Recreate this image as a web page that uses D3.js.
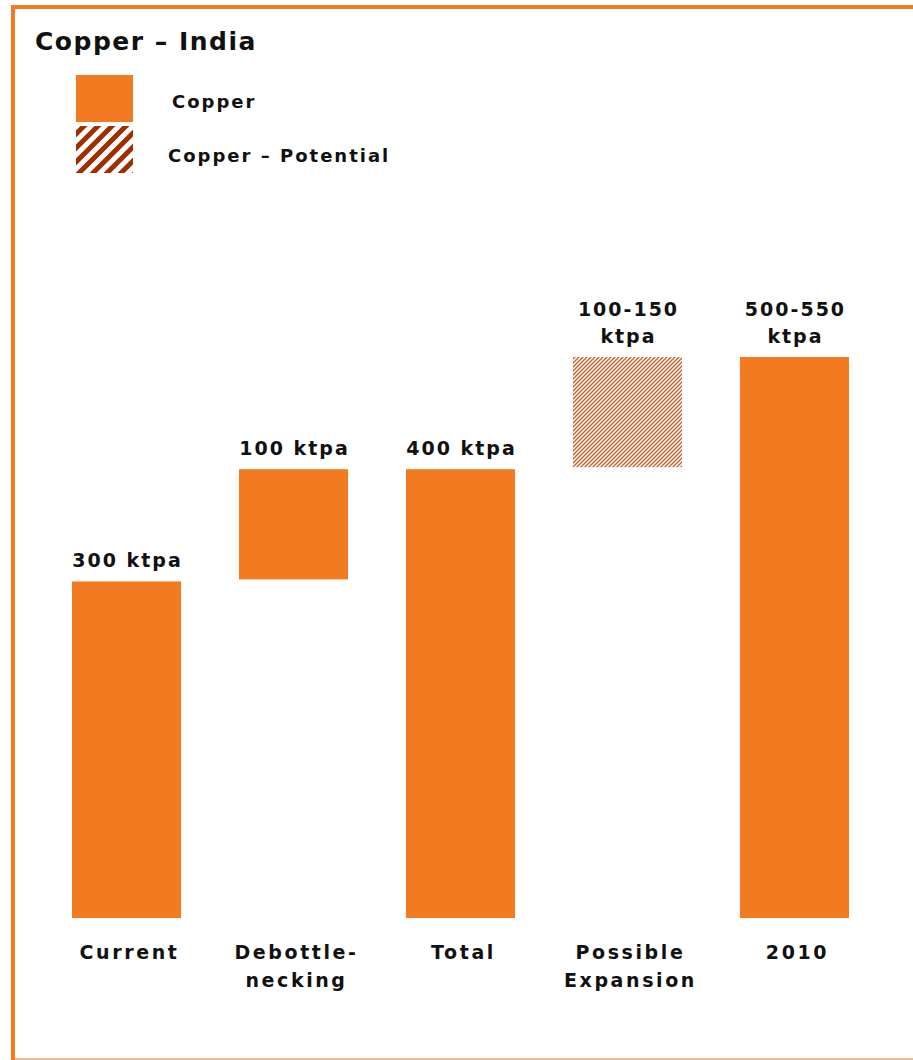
<!DOCTYPE html>
<html lang="en">
<head>
  <meta charset="utf-8" />
  <title>Copper - India</title>
  <style>
    body { margin: 0; background: #fff; }
    text { font-family: "DejaVu Sans", Verdana, sans-serif; font-weight: bold; fill: #111; }
    .bar { fill: #F27B22; }
    .bar-potential { fill: url(#fine-hatch); }
    .frame { stroke: #F27B22; stroke-width: 4px; }
    .frame-bottom { stroke: #F8B98A; stroke-width: 2px; }
  </style>
</head>
<body>
  <script src="https://cdn.jsdelivr.net/npm/d3@7"></script>
  <script>
    var w = 913;
    var h = 1060;

    // data
    var categories = [["Current"], ["Debottle-", "necking"], ["Total"], ["Possible", "Expansion"], ["2010"]];
    var bases = [0, 300, 0, 400, 0];
    var values = [300, 100, 400, 100, 500];
    var valueLabels = [["300 ktpa"], ["100 ktpa"], ["400 ktpa"], ["100-150", "ktpa"], ["500-550", "ktpa"]];
    var potential = [false, false, false, true, false];
    var legendLabels = ["Copper", "Copper \u2013 Potential"];

    var svg = d3.select("body").append("svg")
      .attr("width", w)
      .attr("height", h);

    var defs = svg.append("defs");

    // fine hatch used in the bar
    var fine = defs.append("pattern")
      .attr("id", "fine-hatch")
      .attr("patternUnits", "userSpaceOnUse")
      .attr("width", 4)
      .attr("height", 4);
    fine.append("rect").attr("width", 4).attr("height", 4).attr("fill", "#fff");
    fine.append("path")
      .attr("d", "M-1,1 l2,-2 M0,4 l4,-4 M3,5 l2,-2")
      .attr("stroke", "#C8622A")
      .attr("stroke-width", 1.4);

    // coarse hatch used in the legend
    var coarse = defs.append("pattern")
      .attr("id", "coarse-hatch")
      .attr("patternUnits", "userSpaceOnUse")
      .attr("width", 14)
      .attr("height", 14);
    coarse.append("rect").attr("width", 14).attr("height", 14).attr("fill", "#fff");
    coarse.append("path")
      .attr("d", "M-3.5,3.5 l7,-7 M0,14 l14,-14 M10.5,17.5 l7,-7")
      .attr("stroke", "#9E3000")
      .attr("stroke-width", 5);

    // frame
    svg.append("line").attr("class", "frame")
      .attr("x1", 11).attr("x2", w).attr("y1", 7).attr("y2", 7);
    svg.append("line").attr("class", "frame")
      .attr("x1", 13).attr("x2", 13).attr("y1", 5).attr("y2", h);
    svg.append("line").attr("class", "frame-bottom")
      .attr("x1", 15).attr("x2", w).attr("y1", 1059).attr("y2", 1059);

    // title
    svg.append("text")
      .attr("x", 35)
      .attr("y", 50)
      .style("font-size", "25px")
      .style("letter-spacing", "1.5px")
      .text("Copper \u2013 India");

    // legend
    var legend = svg.append("g");
    legend.append("rect")
      .attr("x", 76).attr("y", 75).attr("width", 57).attr("height", 47)
      .attr("class", "bar");
    legend.append("rect")
      .attr("x", 76).attr("y", 126).attr("width", 57).attr("height", 47)
      .attr("fill", "url(#coarse-hatch)");
    legend.selectAll(".legend-text")
      .data(legendLabels)
      .enter()
      .append("text")
      .attr("class", "legend-text")
      .attr("x", function(d, i) { return i == 0 ? 172 : 168; })
      .attr("y", function(d, i) { return 108 + i * 54; })
      .style("font-size", "18px")
      .style("letter-spacing", "2px")
      .text(function(d) { return d; });

    var xScale = d3.scaleBand()
      .domain(d3.range(categories.length))
      .range([43, 878])
      .paddingInner(0.347)
      .paddingOuter(0.1737);

    var yScale = d3.scaleLinear()
      .domain([0, 500])
      .range([918, 357]);

    svg.selectAll(".bars")
      .data(values)
      .enter()
      .append("rect")
      .attr("class", function(d, i) { return potential[i] ? "bar-potential" : "bar"; })
      .attr("x", function(d, i) { return xScale(i); })
      .attr("width", xScale.bandwidth())
      .attr("y", function(d, i) { return yScale(bases[i] + d); })
      .attr("height", function(d, i) {
        var gap = bases[i] > 0 ? 2 : 0;
        return yScale(bases[i]) - yScale(bases[i] + d) - gap;
      });

    // value labels
    svg.selectAll(".value-label")
      .data(valueLabels)
      .enter()
      .append("text")
      .attr("class", "value-label")
      .attr("text-anchor", "middle")
      .style("font-size", "19px")
      .style("letter-spacing", "2px")
      .each(function(d, i) {
        var top = yScale(bases[i] + values[i]);
        var t = d3.select(this);
        d.forEach(function(line, j) {
          t.append("tspan")
            .attr("x", xScale(i) + xScale.bandwidth() / 2 + 1)
            .attr("y", top - 14 - (d.length - 1 - j) * 27)
            .text(line);
        });
      });

    // category labels
    svg.selectAll(".cat-label")
      .data(categories)
      .enter()
      .append("text")
      .attr("class", "cat-label")
      .attr("text-anchor", "middle")
      .style("font-size", "19px")
      .style("letter-spacing", "2.6px")
      .each(function(d, i) {
        var t = d3.select(this);
        d.forEach(function(line, j) {
          t.append("tspan")
            .attr("x", xScale(i) + xScale.bandwidth() / 2 + 3)
            .attr("y", 959 + j * 28)
            .text(line);
        });
      });
  </script>
</body>
</html>
